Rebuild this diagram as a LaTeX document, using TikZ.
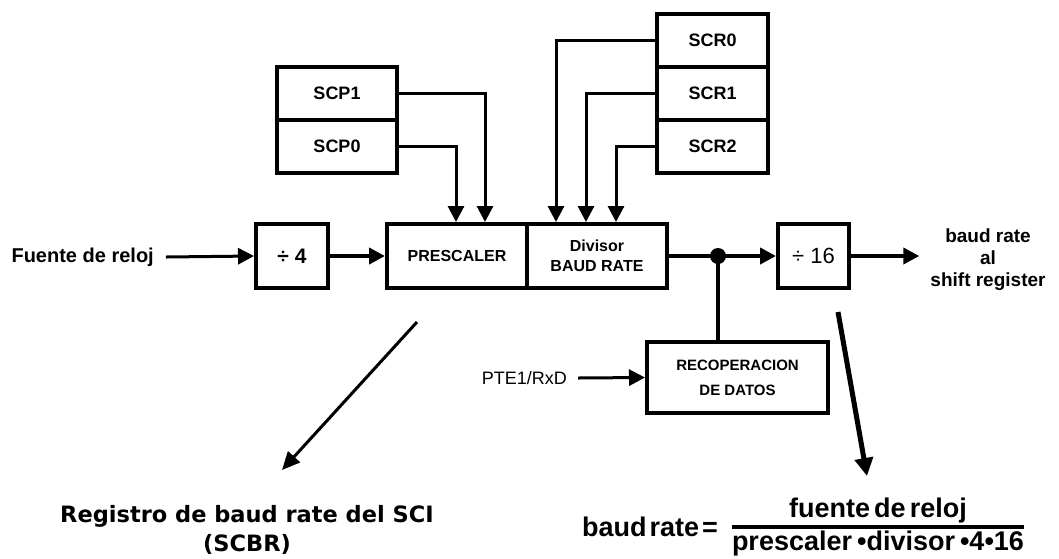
\documentclass[tikz,border=0pt]{standalone}
\usepackage{fontspec}
\setmainfont{Liberation Sans}
\newfontfamily\notefont{DejaVu Sans}
\usetikzlibrary{arrows.meta,calc}
\begin{document}
\begin{tikzpicture}[x=1pt,y=-1pt,
  blk/.style={draw, line width=4pt, inner sep=0pt, align=center,
              font=\fontsize{16}{20}\selectfont\bfseries},
  reg/.style={blk, minimum height=53pt, font=\fontsize{18}{20}\selectfont\bfseries},
  tip/.style={-{Triangle[length=16pt,width=16pt]}},
  flow/.style={line width=4pt, tip},
  feed/.style={line width=3pt, tip},
  lbl/.style={inner sep=0pt, align=center,
              font=\fontsize{19}{22}\selectfont\bfseries},
  big/.style={inner sep=0pt, font=\fontsize{27}{30}\selectfont\bfseries},
]
\useasboundingbox (0,0) rectangle (1059,558);

% control registers
\node[reg, minimum width=120pt] (scp1) at (337,93)  {SCP1};
\node[reg, minimum width=120pt] (scp0) at (337,146) {SCP0};
\node[reg, minimum width=111pt] (scr0) at (712.5,40)    {SCR0};
\node[reg, minimum width=111pt] (scr1) at (712.5,93.5)  {SCR1};
\node[reg, minimum width=111pt] (scr2) at (712.5,146.5) {SCR2};

% main clock chain
\node[blk, minimum width=72pt, minimum height=64pt,
      font=\fontsize{21}{24}\selectfont\bfseries] (d4) at (292,256) {÷ 4};
\node[blk, minimum width=140pt, minimum height=64pt] (pre) at (457,256) {PRESCALER};
\node[blk, minimum width=140pt, minimum height=64pt] (div) at (597,256) {Divisor\\BAUD RATE};
\node[blk, minimum width=71pt, minimum height=64pt,
      font=\fontsize{22}{24}\selectfont] (d16) at (813.5,256) {÷ 16};
\node[blk, minimum width=181pt, minimum height=71pt,
      font=\fontsize{15}{25}\selectfont\bfseries] (rec) at (737.5,377.5) {RECOPERACION\\DE DATOS};
\coordinate (j) at (718,256);

% input / output labels
\node[lbl, anchor=east, font=\fontsize{20}{24}\selectfont\bfseries] (src) at (154,257) {Fuente de reloj};
\node[lbl] (out) at (988,260) {baud rate\\al\\shift register};
\node[lbl, anchor=east, font=\fontsize{18}{21}\selectfont] (pte) at (567,378) {PTE1/RxD};

% signal flow
\draw[feed] ([xshift=12pt]src.east) -- (d4.west);
\draw[flow] (d4) -- (pre);
\draw[flow] (div.east) -- (j) -- (d16.west);
\fill (j) circle (8pt);
\draw[line width=4pt] (j) -- (j |- rec.north);
\draw[flow] (d16.east) -- ($(d16.east -| out.west)+(-11,0)$);
\draw[feed] ([xshift=11pt]pte.east) -- (rec.west);

% register bits into the dividers
\draw[feed] (scp1.east) -| ([xshift=100pt]pre.north west);
\draw[feed] (scp0.east) -| ([xshift=71pt]pre.north west);
\draw[feed] (scr0.west) -| ([xshift=31pt]div.north west);
\draw[feed] (scr1.west) -| ([xshift=61pt]div.north west);
\draw[feed] (scr2.west) -| ([xshift=91pt]div.north west);

% notes
\node[font=\notefont\fontsize{22.5}{29}\selectfont\bfseries, align=center] (scbr) at (247,530)
  {Registro de baud rate del SCI\\(SCBR)};
\node[big, anchor=base east] (br) at (718,536) {\spaceskip=3pt\relax baud rate =};
\node[big, anchor=base] (num) at (878,517) {\spaceskip=4pt\relax fuente de reloj};
\node[big, anchor=base] (den) at (878,550) {\spaceskip=5pt\relax prescaler •divisor •4•16};
\draw[line width=4pt] ([yshift=3pt]den.north west) -- ([yshift=3pt]den.north east);

\coordinate (a1) at (417,322);
\coordinate (a2) at (282,470);
\draw[line width=3pt, -{Triangle[length=18pt,width=16pt]}] (a1) -- (a2);
\coordinate (b1) at (838,312);
\coordinate (b2) at (867,476);
\draw[line width=5pt, -{Triangle[length=18pt,width=18pt]}] (b1) -- (b2);
\end{tikzpicture}
\end{document}
